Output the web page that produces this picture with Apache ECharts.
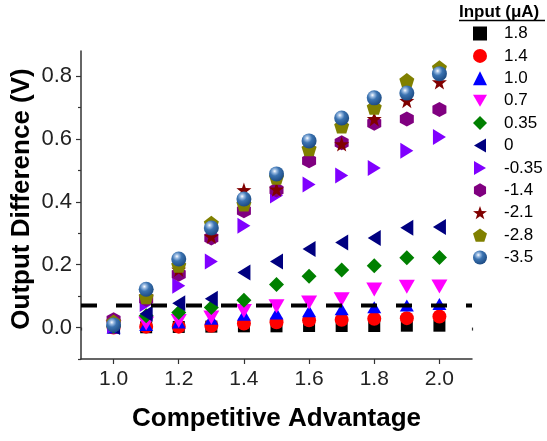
<!DOCTYPE html>
<html>
<head>
<meta charset="utf-8">
<script src="https://cdn.jsdelivr.net/npm/echarts@6/dist/echarts.min.js"></script>
<style>
  html, body { margin: 0; padding: 0; background: #fff; }
  #chart { width: 547px; height: 441px; }
</style>
</head>
<body>
<div id="chart"></div>
<script>
// Competitive advantage (x) for every measurement column
const xValues = [1.0, 1.1, 1.2, 1.3, 1.4, 1.5, 1.6, 1.7, 1.8, 1.9, 2.0];

// Output difference (V) for each input current (µA)
const out_1p8  = [0.000, 0.001, 0.002, 0.003, 0.004, 0.004, 0.005, 0.005, 0.005, 0.006, 0.006];
const out_1p4  = [0.000, 0.003, 0.003, 0.006, 0.013, 0.017, 0.023, 0.025, 0.028, 0.030, 0.035];
const out_1p0  = [0.000, 0.008, 0.016, 0.028, 0.041, 0.045, 0.052, 0.058, 0.065, 0.070, 0.075];
const out_0p7  = [0.002, 0.013, 0.021, 0.032, 0.053, 0.068, 0.080, 0.090, 0.121, 0.130, 0.131];
const out_0p35 = [0.004, 0.038, 0.048, 0.064, 0.087, 0.137, 0.163, 0.183, 0.197, 0.222, 0.223];
const out_0    = [0.002, 0.044, 0.077, 0.092, 0.175, 0.210, 0.250, 0.271, 0.285, 0.318, 0.320];
const out_m0p35 = [0.006, 0.075, 0.133, 0.210, 0.324, 0.420, 0.455, 0.484, 0.508, 0.563, 0.606];
const out_m1p4 = [0.025, 0.090, 0.170, 0.285, 0.372, 0.438, 0.531, 0.588, 0.650, 0.664, 0.694];
const out_m2p1 = [0.020, 0.100, 0.185, 0.290, 0.438, 0.440, 0.570, 0.584, 0.664, 0.722, 0.781];
const out_m2p8 = [0.018, 0.098, 0.198, 0.332, 0.393, 0.478, 0.569, 0.641, 0.701, 0.786, 0.827];
const out_m3p5 = [0.008, 0.122, 0.218, 0.317, 0.409, 0.489, 0.594, 0.667, 0.731, 0.746, 0.808];

// Legend labels (input current, µA), same order as the value arrays
const inputLabels = ['1.8', '1.4', '1.0', '0.7', '0.35', '0', '-0.35', '-1.4', '-2.1', '-2.8', '-3.5'];
const seriesValues = [out_1p8, out_1p4, out_1p0, out_0p7, out_0p35, out_0,
                      out_m0p35, out_m1p4, out_m2p1, out_m2p8, out_m3p5];

// Threshold drawn as a dashed horizontal line
const thresholdValue = 0.07;

// Axis ticks
const xTickLabels = [1.0, 1.2, 1.4, 1.6, 1.8, 2.0];
const xMinorTicks = [0.9, 1.1, 1.3, 1.5, 1.7, 1.9, 2.1];
const yTickLabels = [0.0, 0.2, 0.4, 0.6, 0.8];
const yMinorTicks = [-0.1, 0.1, 0.3, 0.5, 0.7];

// Marker shapes
const hexagon  = 'path://M50,0 L93.3,25 L93.3,75 L50,100 L6.7,75 L6.7,25 Z';
const pentagon = 'path://M50,0 L97.6,34.5 L79.4,90.5 L20.6,90.5 L2.4,34.5 Z';
const star     = 'path://M50,0 L61.76,33.82 L97.55,34.55 L69.02,56.18 L79.39,90.45 L50,70 L20.61,90.45 L30.98,56.18 L2.45,34.55 L38.24,33.82 Z';
const triDown  = 'path://M0,0 L100,0 L50,86 Z';
const triLeft  = 'path://M86,0 L86,100 L0,50 Z';
const triRight = 'path://M0,0 L0,100 L86,50 Z';

const sphereFill = new echarts.graphic.RadialGradient(0.38, 0.32, 0.7, [
  { offset: 0, color: '#ffffff' },
  { offset: 0.18, color: '#9dbde3' },
  { offset: 0.45, color: '#3b73b1' },
  { offset: 1, color: '#1c4a82' }
]);

const markerStyles = [
  { symbol: 'rect',     size: [12, 12], color: '#000000' },
  { symbol: 'circle',   size: [14, 14], color: '#ff0000' },
  { symbol: 'triangle', size: [14, 12], color: '#0000ff' },
  { symbol: triDown,    size: [16, 14], color: '#ff00ff' },
  { symbol: 'diamond',  size: [15, 15], color: '#008000' },
  { symbol: triLeft,    size: [13, 16], color: '#000080' },
  { symbol: triRight,   size: [13, 16], color: '#8000ff' },
  { symbol: hexagon,    size: [14, 15], color: '#800080' },
  { symbol: star,       size: [15, 15], color: '#800000' },
  { symbol: pentagon,   size: [15, 15], color: '#808000' },
  { symbol: 'circle',   size: [15, 15], color: sphereFill }
];

const FONT = "'Liberation Sans', Arial, sans-serif";
const AXIS_COLOR = '#333333';

const scatterSeries = seriesValues.map(function (vals, i) {
  const st = markerStyles[i];
  return {
    name: inputLabels[i],
    type: 'scatter',
    xAxisIndex: 0,
    yAxisIndex: 0,
    symbol: st.symbol,
    symbolSize: st.size,
    itemStyle: { color: st.color, opacity: 1 },
    z: 3,
    data: xValues.map(function (x, k) { return [x, vals[k]]; })
  };
});

const thresholdSeries = {
  name: 'threshold',
  type: 'line',
  xAxisIndex: 0,
  yAxisIndex: 0,
  symbol: 'none',
  silent: true,
  z: 4,
  lineStyle: { color: '#000000', width: 4, type: [16, 19] },
  data: [[0.9, thresholdValue], [2.1, thresholdValue]]
};

const chart = echarts.init(document.getElementById('chart'), null, { renderer: 'canvas' });

chart.setOption({
  animation: false,
  backgroundColor: '#ffffff',
  grid: { left: 81, right: 75, top: 51, bottom: 82, outerBoundsMode: 'none' },
  xAxis: [
    {
      type: 'value',
      min: 0.9,
      max: 2.1,
      name: 'Competitive Advantage',
      nameLocation: 'middle',
      nameGap: 47,
      nameTextStyle: { fontFamily: FONT, fontSize: 26, fontWeight: 'bold', color: '#000' },
      axisLine: { show: true, onZero: false, lineStyle: { color: AXIS_COLOR, width: 1.5 } },
      axisTick: { show: true, inside: false, length: 5, customValues: xTickLabels,
                  lineStyle: { color: AXIS_COLOR, width: 1.2 } },
      axisLabel: { show: true, customValues: xTickLabels, margin: 10,
                   fontFamily: FONT, fontSize: 21, color: '#222',
                   formatter: function (v) { return v.toFixed(1); } },
      splitLine: { show: false }
    },
    {
      type: 'value',
      min: 0.9,
      max: 2.1,
      position: 'bottom',
      axisLine: { show: false },
      axisTick: { show: true, inside: false, length: 3, customValues: xMinorTicks,
                  lineStyle: { color: AXIS_COLOR, width: 1.2 } },
      axisLabel: { show: false },
      splitLine: { show: false }
    }
  ],
  yAxis: [
    {
      type: 'value',
      min: -0.1,
      max: 0.88,
      name: 'Output Difference (V)',
      nameLocation: 'middle',
      nameGap: 46,
      nameMoveOverlap: false,
      nameTextStyle: { fontFamily: FONT, fontSize: 26, fontWeight: 'bold', color: '#000',
                       padding: [0, 0, 0, 12] },
      axisLine: { show: true, onZero: false, lineStyle: { color: AXIS_COLOR, width: 1.5 } },
      axisTick: { show: true, inside: false, length: 5, customValues: yTickLabels,
                  lineStyle: { color: AXIS_COLOR, width: 1.2 } },
      axisLabel: { show: true, customValues: yTickLabels, margin: 9,
                   fontFamily: FONT, fontSize: 22, color: '#222',
                   formatter: function (v) { return v.toFixed(1); } },
      splitLine: { show: false }
    },
    {
      type: 'value',
      min: -0.1,
      max: 0.88,
      position: 'left',
      offset: 0,
      axisLine: { show: false },
      axisTick: { show: true, inside: false, length: 3, customValues: yMinorTicks,
                  lineStyle: { color: AXIS_COLOR, width: 1.2 } },
      axisLabel: { show: false },
      splitLine: { show: false }
    }
  ],
  legend: {
    data: inputLabels,
    orient: 'vertical',
    left: 473,
    top: 25,
    padding: 0,
    itemWidth: 14,
    itemHeight: 14,
    itemGap: 5.4,
    selectedMode: false,
    textStyle: { fontFamily: FONT, fontSize: 17, color: '#000', lineHeight: 17,
                 padding: [0, 0, 0, 12] }
  },
  graphic: [
    {
      type: 'text',
      left: 459,
      top: 4,
      style: { text: 'Input (\u03bcA)', font: "bold 17px 'Liberation Sans', Arial, sans-serif", fill: '#000' }
    },
    {
      type: 'line',
      shape: { x1: 459, y1: 20.5, x2: 545, y2: 20.5 },
      style: { stroke: '#000', lineWidth: 1.5 }
    }
  ],
  series: scatterSeries.concat([thresholdSeries])
});
</script>
</body>
</html>
